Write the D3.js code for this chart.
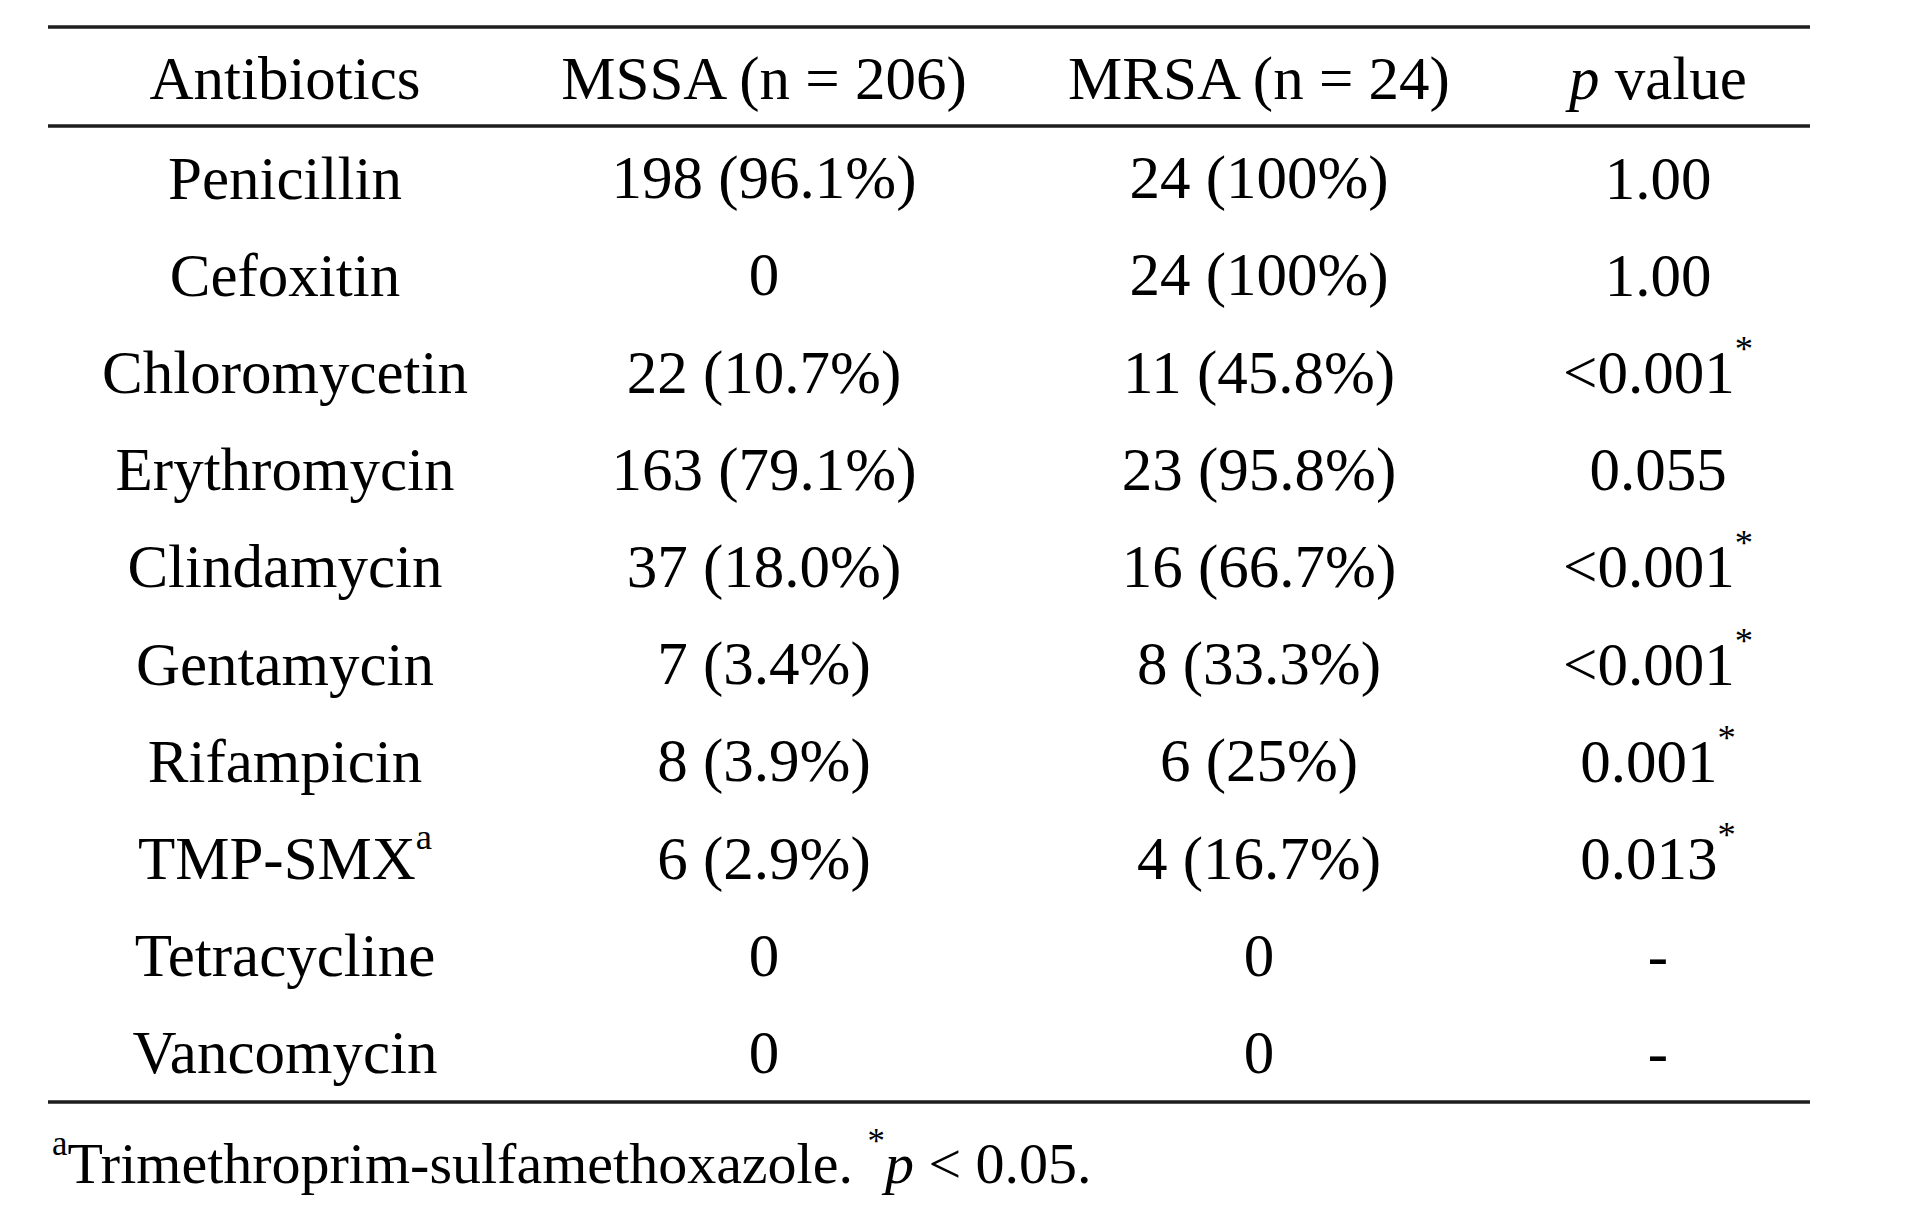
<!DOCTYPE html>
<html><head><meta charset="utf-8">
<script src="https://cdn.jsdelivr.net/npm/d3@7"></script>
<style>html,body{margin:0;padding:0;background:#fff;}svg{display:block;}</style>
</head><body>
<svg id="chart" width="1914" height="1220"></svg>
<script>
const columns = ["Antibiotics", "MSSA (n = 206)", "MRSA (n = 24)", "p value"];
const antibiotics = ["Penicillin","Cefoxitin","Chloromycetin","Erythromycin","Clindamycin","Gentamycin","Rifampicin","TMP-SMX","Tetracycline","Vancomycin"];
const antibioticSup = ["","","","","","","","a","",""];
const mssa = ["198 (96.1%)","0","22 (10.7%)","163 (79.1%)","37 (18.0%)","7 (3.4%)","8 (3.9%)","6 (2.9%)","0","0"];
const mrsa = ["24 (100%)","24 (100%)","11 (45.8%)","23 (95.8%)","16 (66.7%)","8 (33.3%)","6 (25%)","4 (16.7%)","0","0"];
const pValues = ["1.00","1.00","<0.001","0.055","<0.001","<0.001","0.001","0.013","-","-"];
const significant = [false,false,true,false,true,true,true,true,false,false];
const footnote = "Trimethroprim-sulfamethoxazole.";

const svg = d3.select("#chart");
const font = "'Liberation Serif','Times New Roman',serif";
const fs = 61;

const x = d3.scaleOrdinal().domain(d3.range(columns.length)).range([285, 764, 1259, 1658]);
const y = d3.scaleBand().domain(d3.range(antibiotics.length)).range([133, 1105]);
const lineX0 = 48, lineX1 = 1810;

function rule(yy){
  svg.append("line").attr("x1",lineX0).attr("x2",lineX1).attr("y1",yy).attr("y2",yy)
    .attr("stroke","#1e1e1e").attr("stroke-width",3.5);
}
rule(27); rule(126); rule(1102);

const g = svg.append("g").attr("font-family", font).attr("font-size", fs).attr("fill","#000");

const headerY = 78;
columns.forEach((c,i)=>{
  const t = g.append("text").attr("x", x(i)).attr("y", headerY).attr("text-anchor","middle").attr("dominant-baseline","central");
  if (i === 3) {
    t.append("tspan").attr("font-style","italic").text("p");
    t.append("tspan").text(" value");
  } else t.text(c);
});

const rowC = i => y(i) + y.bandwidth()/2 - 4;

antibiotics.forEach((a,i)=>{
  const t = g.append("text").attr("x", x(0)).attr("y", rowC(i)).attr("text-anchor","middle").attr("dominant-baseline","central");
  t.append("tspan").text(a);
  if (antibioticSup[i]) t.append("tspan").attr("font-size", fs*0.6).attr("dy", -22).text(antibioticSup[i]);
  g.append("text").attr("x", x(1)).attr("y", rowC(i)).attr("text-anchor","middle").attr("dominant-baseline","central").text(mssa[i]);
  g.append("text").attr("x", x(2)).attr("y", rowC(i)).attr("text-anchor","middle").attr("dominant-baseline","central").text(mrsa[i]);
  const p = g.append("text").attr("x", x(3)).attr("y", rowC(i)).attr("text-anchor","middle").attr("dominant-baseline","central");
  p.append("tspan").text(pValues[i]);
  if (significant[i]) p.append("tspan").attr("font-size", fs*0.6).attr("dy", -24).text("*");
});

const ffs = 58;
const f = g.append("text").attr("x", 52).attr("y", 1163).attr("dominant-baseline","central").attr("font-size", ffs);
f.append("tspan").attr("font-size", ffs*0.6).attr("dy", -20).text("a");
f.append("tspan").attr("dy", 20).text(footnote + " ");
f.append("tspan").attr("font-size", ffs*0.6).attr("dy", -22).text("*");
f.append("tspan").attr("font-style","italic").attr("dy", 22).text("p");
f.append("tspan").text(" < 0.05.");
</script>
</body></html>
